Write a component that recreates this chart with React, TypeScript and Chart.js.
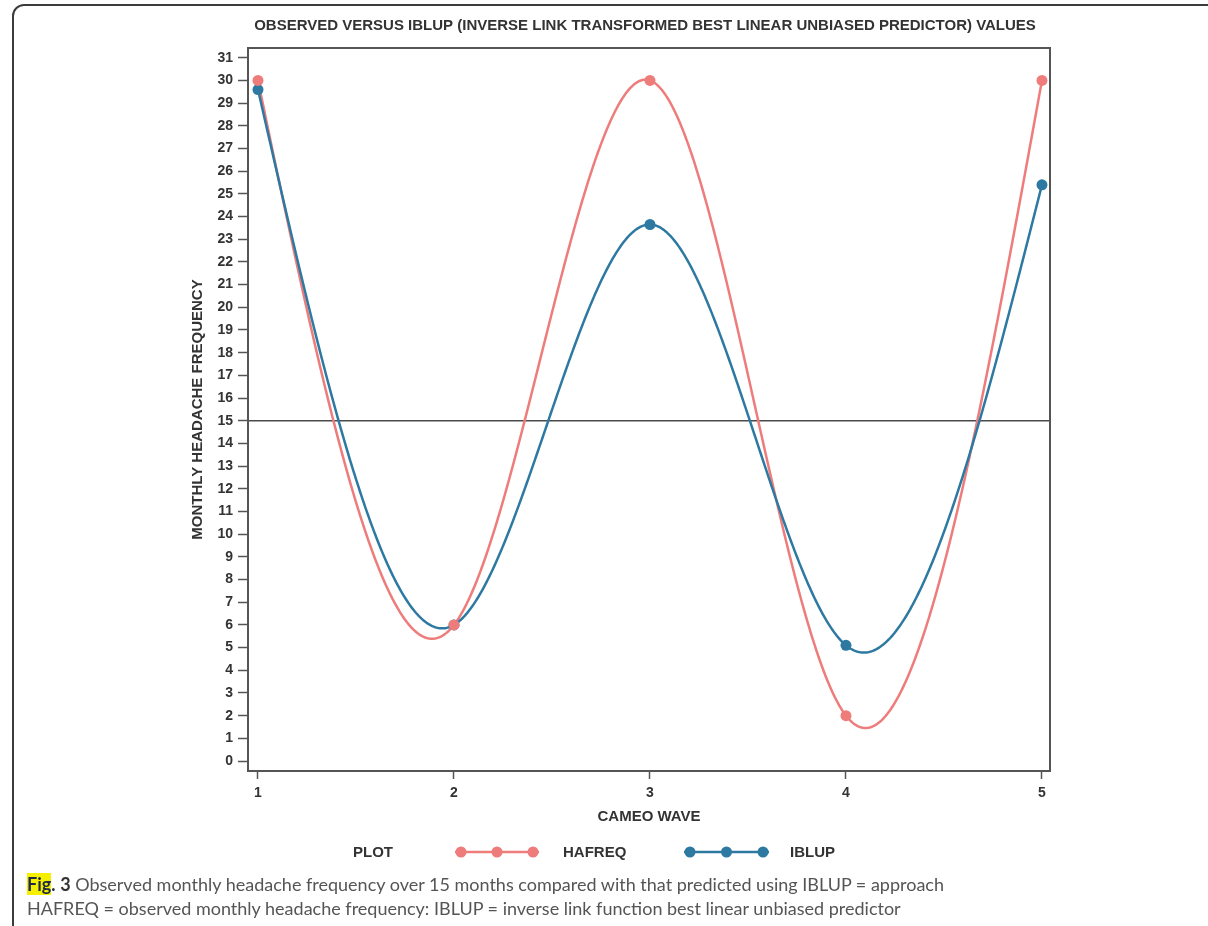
import React, { useEffect, useRef } from "react";
import { Chart, registerables } from "chart.js";

Chart.register(...registerables);

const CAMEO_WAVES = [1, 2, 3, 4, 5];
const HAFREQ = [30, 6, 30, 2, 30];
const IBLUP = [29.6, 6, 23.65, 5.1, 25.4];
const X_TICKS = [1, 2, 3, 4, 5];
const Y_TICKS = [0, 1, 2, 3, 4, 5, 6, 7, 8, 9, 10, 11, 12, 13, 14, 15, 16, 17, 18, 19, 20, 21, 22, 23, 24, 25, 26, 27, 28, 29, 30, 31];
const THRESHOLD = 15;
const TITLE = "OBSERVED VERSUS IBLUP (INVERSE LINK TRANSFORMED BEST LINEAR UNBIASED PREDICTOR) VALUES";
const X_TITLE = "CAMEO WAVE";
const Y_TITLE = "MONTHLY HEADACHE FREQUENCY";
const LEGEND_TITLE = "PLOT";
const SERIES_NAMES = ["HAFREQ", "IBLUP"];
const SERIES_COLORS = ["#EE7C7B", "#2D79A1"];

const AXIS_FONT = "'Liberation Sans', Arial, sans-serif";
const INK = "#333333";
const AXIS_COLOR = "#555555";

function naturalSpline(xs: number[], ys: number[]) {
  const n = xs.length;
  const h: number[] = [];
  for (let i = 0; i < n - 1; i++) h.push(xs[i + 1] - xs[i]);
  const a = new Array(n).fill(0);
  const b = new Array(n).fill(1);
  const c = new Array(n).fill(0);
  const d = new Array(n).fill(0);
  for (let i = 1; i < n - 1; i++) {
    a[i] = h[i - 1];
    b[i] = 2 * (h[i - 1] + h[i]);
    c[i] = h[i];
    d[i] = 6 * ((ys[i + 1] - ys[i]) / h[i] - (ys[i] - ys[i - 1]) / h[i - 1]);
  }
  const cp = new Array(n).fill(0);
  const dp = new Array(n).fill(0);
  cp[0] = c[0] / b[0];
  dp[0] = d[0] / b[0];
  for (let i = 1; i < n; i++) {
    const m = b[i] - a[i] * cp[i - 1];
    cp[i] = c[i] / m;
    dp[i] = (d[i] - a[i] * dp[i - 1]) / m;
  }
  const M = new Array(n).fill(0);
  M[n - 1] = dp[n - 1];
  for (let i = n - 2; i >= 0; i--) M[i] = dp[i] - cp[i] * M[i + 1];
  return (x: number) => {
    let i = 0;
    while (i < n - 2 && x > xs[i + 1]) i++;
    const hh = h[i];
    const A = (xs[i + 1] - x) / hh;
    const B = (x - xs[i]) / hh;
    return A * ys[i] + B * ys[i + 1] + ((A * A * A - A) * M[i] + (B * B * B - B) * M[i + 1]) * hh * hh / 6;
  };
}

const chartDecor = {
  id: "chartDecor",
  beforeDatasetsDraw(chart: any) {
    const { ctx, chartArea, scales } = chart;
    const xs = scales.x;
    const ys = scales.y;
    ctx.save();
    ctx.beginPath();
    ctx.rect(chartArea.left, chartArea.top, chartArea.right - chartArea.left, chartArea.bottom - chartArea.top);
    ctx.clip();
    // reference line
    const yy = ys.getPixelForValue(THRESHOLD);
    ctx.strokeStyle = "#4a4a4a";
    ctx.lineWidth = 1.5;
    ctx.beginPath();
    ctx.moveTo(chartArea.left, yy);
    ctx.lineTo(chartArea.right, yy);
    ctx.stroke();
    // spline curves through the data points
    chart.data.datasets.forEach((ds: any) => {
      const px = ds.data.map((p: any) => p.x);
      const py = ds.data.map((p: any) => p.y);
      const f = naturalSpline(px, py);
      ctx.strokeStyle = ds.borderColor;
      ctx.lineWidth = 2.5;
      ctx.lineJoin = "round";
      ctx.beginPath();
      const N = 600;
      const x0 = px[0];
      const x1 = px[px.length - 1];
      for (let k = 0; k <= N; k++) {
        const xv = x0 + ((x1 - x0) * k) / N;
        const X = xs.getPixelForValue(xv);
        const Y = ys.getPixelForValue(f(xv));
        if (k === 0) ctx.moveTo(X, Y);
        else ctx.lineTo(X, Y);
      }
      ctx.stroke();
    });
    ctx.restore();
  },
  afterDraw(chart: any) {
    const { ctx, chartArea } = chart;
    ctx.save();
    // plot frame
    ctx.strokeStyle = AXIS_COLOR;
    ctx.lineWidth = 2;
    ctx.strokeRect(chartArea.left, chartArea.top, chartArea.right - chartArea.left, chartArea.bottom - chartArea.top);
    // title
    ctx.fillStyle = INK;
    ctx.font = `bold 15px ${AXIS_FONT}`;
    ctx.textAlign = "center";
    ctx.textBaseline = "middle";
    ctx.fillText(TITLE, 645, 26);
    // legend
    ctx.font = `bold 15px ${AXIS_FONT}`;
    ctx.fillText(LEGEND_TITLE, 373, 853);
    const items = [
      { x0: 455, x1: 539, tx: 563 },
      { x0: 684, x1: 769, tx: 790 },
    ];
    chart.data.datasets.forEach((ds: any, i: number) => {
      const it = items[i];
      const yl = 852;
      ctx.strokeStyle = ds.borderColor;
      ctx.lineWidth = 2.5;
      ctx.beginPath();
      ctx.moveTo(it.x0, yl);
      ctx.lineTo(it.x1, yl);
      ctx.stroke();
      ctx.fillStyle = ds.backgroundColor;
      [it.x0 + 6, (it.x0 + it.x1) / 2, it.x1 - 6].forEach((mx) => {
        ctx.beginPath();
        ctx.arc(mx, yl, 5.5, 0, Math.PI * 2);
        ctx.fill();
      });
      ctx.fillStyle = INK;
      ctx.textAlign = "left";
      ctx.fillText(ds.label, it.tx, 853);
    });
    ctx.restore();
  },
};

export default function App() {
  const ref = useRef<HTMLCanvasElement | null>(null);
  useEffect(() => {
    if (!ref.current) return;
    const makeData = (vals: number[]) => CAMEO_WAVES.map((w, i) => ({ x: w, y: vals[i] }));
    const chart = new Chart(ref.current, {
      type: "scatter",
      data: {
        datasets: [
          {
            label: SERIES_NAMES[0],
            data: makeData(HAFREQ),
            backgroundColor: SERIES_COLORS[0],
            borderColor: SERIES_COLORS[0],
            pointRadius: 5.5,
            pointBorderWidth: 0,
            showLine: false,
          },
          {
            label: SERIES_NAMES[1],
            data: makeData(IBLUP),
            backgroundColor: SERIES_COLORS[1],
            borderColor: SERIES_COLORS[1],
            pointRadius: 5.5,
            pointBorderWidth: 0,
            showLine: false,
          },
        ],
      },
      options: {
        responsive: false,
        animation: false,
        devicePixelRatio: 1,
        layout: { padding: { left: 180, top: 48, right: 158, bottom: 96 } },
        plugins: {
          legend: { display: false },
          title: { display: false },
          tooltip: { enabled: false },
        },
        scales: {
          x: {
            type: "linear",
            min: 0.949,
            max: 5.041,
            afterBuildTicks: (s: any) => {
              s.ticks = X_TICKS.map((v) => ({ value: v }));
            },
            afterFit: (s: any) => {
              s.height = 59;
            },
            grid: {
              display: true,
              drawOnChartArea: false,
              drawTicks: true,
              tickLength: 8,
              tickColor: AXIS_COLOR,
              tickWidth: 1.5,
            },
            border: { display: true, color: AXIS_COLOR, width: 2 },
            ticks: {
              autoSkip: false,
              maxRotation: 0,
              padding: 6,
              color: INK,
              font: { family: AXIS_FONT, size: 14, weight: "bold" },
              callback: (v: any) => String(v),
            },
            title: {
              display: true,
              text: X_TITLE,
              color: INK,
              font: { family: AXIS_FONT, size: 15, weight: "bold" },
              padding: { top: 0, bottom: 4 },
            },
          },
          y: {
            type: "linear",
            min: -0.44,
            max: 31.43,
            afterBuildTicks: (s: any) => {
              s.ticks = Y_TICKS.map((v) => ({ value: v }));
            },
            afterFit: (s: any) => {
              s.width = 68;
            },
            grid: {
              display: true,
              drawOnChartArea: false,
              drawTicks: true,
              tickLength: 10,
              tickColor: AXIS_COLOR,
              tickWidth: 1.5,
            },
            border: { display: true, color: AXIS_COLOR, width: 2 },
            ticks: {
              autoSkip: false,
              padding: 5,
              color: INK,
              font: { family: AXIS_FONT, size: 14, weight: "bold" },
              callback: (v: any) => String(v),
            },
            title: {
              display: true,
              text: Y_TITLE,
              color: INK,
              font: { family: AXIS_FONT, size: 15, weight: "bold" },
              padding: { top: 9, bottom: 0 },
            },
          },
        },
      },
      plugins: [chartDecor],
    });
    return () => chart.destroy();
  }, []);

  return (
    <div
      style={{
        position: "fixed",
        left: 0,
        top: 0,
        width: 1208,
        height: 926,
        overflow: "hidden",
        background: "#ffffff",
      }}
    >
      <div
        style={{
          position: "absolute",
          left: 12,
          top: 4,
          width: 1400,
          height: 1200,
          border: "2.5px solid #3c3c3c",
          borderRadius: 12,
          boxSizing: "border-box",
        }}
      />
      <canvas ref={ref} width={1208} height={926} style={{ position: "absolute", left: 0, top: 0 }} />
      <div
        style={{
          position: "absolute",
          left: 27,
          top: 872,
          fontFamily: "Lato, 'Open Sans', sans-serif",
          fontSize: 18,
          lineHeight: "24px",
          color: "#555555",
          whiteSpace: "nowrap",
        }}
      >
        <span style={{ fontWeight: 700, color: "#1f2a44", background: "#f4f000" }}>Fig</span>
        <span style={{ fontWeight: 700, color: "#1f2a44" }}>.</span>{" "}
        <span style={{ fontWeight: 700, color: "#333" }}>3</span> Observed monthly headache frequency over 15 months
        compared with that predicted using IBLUP = approach
        <br />
        HAFREQ = observed monthly headache frequency: IBLUP = inverse link function best linear unbiased predictor
      </div>
    </div>
  );
}
